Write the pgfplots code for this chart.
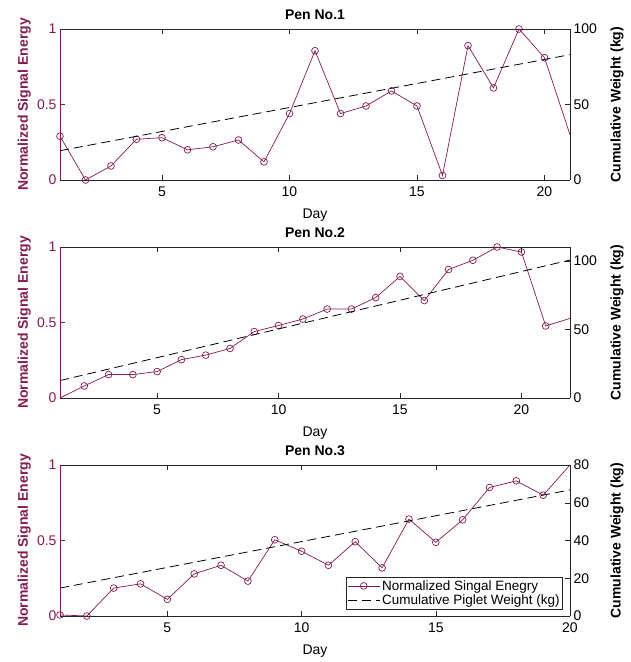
\documentclass[border=0pt]{standalone}
\usepackage{fontspec}
\setmainfont{Liberation Sans}
\usepackage{pgfplots}
\pgfplotsset{compat=1.18}
\definecolor{maroon}{RGB}{132,28,82}
\definecolor{axgray}{gray}{0.15}
\newcommand{\fs}{\fontsize{14}{16}\selectfont}
\pgfplotsset{
  panel/.style={scale only axis, width=510pt, height=151pt,
    tick align=inside, major tick length=5pt,
    /pgf/number format/assume math mode=true,
    tick label style={font=\fs}, label style={font=\fs},
    xtick={5,10,15,20}},
  leftax/.style={panel, separate axis lines,
    x axis line style={axgray, line width=0.6pt},
    y axis line style={maroon, line width=0.6pt},
    xtick pos=both, ytick pos=left,
    ymin=0, ymax=1, ytick={0,0.5,1},
    yticklabel style={text=maroon},
    y tick style={maroon}, x tick style={axgray},
    xticklabel style={yshift=-3pt},
    xlabel={Day},
    xlabel style={at={(axis description cs:0.5,0)}, anchor=center, yshift=-35pt},
    ylabel={\bfseries Normalized Signal Energy},
    ylabel style={text=maroon, at={(axis description cs:-0.07,0.5)}, anchor=center},
    title style={font=\fs\bfseries, at={(axis description cs:0.5,1)}, anchor=center, yshift=8pt}},
  rightax/.style={panel, axis y line*=right, axis x line=none,
    y axis line style={axgray, line width=0.6pt}, y tick style={axgray},
    ymin=0,
    ylabel={\bfseries Cumulative Weight (kg)},
    ylabel style={at={(axis description cs:1.092,0.5)}, anchor=center}},
  sig/.style={maroon, line width=0.7pt, mark=o, mark size=3.4pt, mark options={solid}},
  wt/.style={black, line width=0.8pt, dash pattern=on 9pt off 5pt},
}
\begin{document}
\begin{tikzpicture}
% ---------- Pen 1 ----------
\begin{axis}[leftax, at={(0,436pt)}, xmin=1, xmax=21, title={Pen No.1}]
\addplot[sig, mark indices={1,2,3,4,5,6,7,8,9,10,11,12,13,14,15,16,17,18,19,20}] coordinates {
(1,0.29)(2,0.0)(3,0.093)(4,0.27)(5,0.28)(6,0.20)(7,0.22)(8,0.265)(9,0.12)(10,0.44)
(11,0.856)(12,0.44)(13,0.49)(14,0.59)(15,0.49)(16,0.03)(17,0.89)(18,0.61)(19,1.0)(20,0.81)(21,0.30)};
\end{axis}
\begin{axis}[rightax, at={(0,436pt)}, xmin=1, xmax=21, ymax=100, ytick={0,50,100}]
\addplot[wt] coordinates {(1,19.4)(21,83)};
\end{axis}
% ---------- Pen 2 ----------
\begin{axis}[leftax, at={(0,218pt)}, xmin=1, xmax=22, title={Pen No.2}]
\addplot[sig, mark indices={2,3,4,5,6,7,8,9,10,11,12,13,14,15,16,17,18,19,20,21}] coordinates {
(1,0)(2,0.08)(3,0.155)(4,0.155)(5,0.175)(6,0.254)(7,0.284)(8,0.328)(9,0.44)(10,0.48)(11,0.523)
(12,0.589)(13,0.589)(14,0.665)(15,0.805)(16,0.645)(17,0.851)(18,0.912)(19,1.0)(20,0.967)(21,0.477)(22,0.527)};
\end{axis}
\begin{axis}[rightax, at={(0,218pt)}, xmin=1, xmax=22, ymax=110, ytick={0,50,100}]
\addplot[wt] coordinates {(1,12.7)(22,100.5)};
\end{axis}
% ---------- Pen 3 ----------
\begin{axis}[leftax, at={(0,0pt)}, xmin=1, xmax=20, title={Pen No.3}]
\addplot[sig, mark indices={1,2,3,4,5,6,7,8,9,10,11,12,13,14,15,16,17,18,19}] coordinates {
(1,0.007)(2,0)(3,0.185)(4,0.213)(5,0.11)(6,0.279)(7,0.336)(8,0.231)(9,0.505)(10,0.429)
(11,0.336)(12,0.492)(13,0.319)(14,0.642)(15,0.488)(16,0.637)(17,0.851)(18,0.895)(19,0.8)(20,1.0)};
\end{axis}
\begin{axis}[rightax, at={(0,0pt)}, xmin=1, xmax=20, ymax=80, ytick={0,20,40,60,80},
  legend style={at={(axis description cs:0.986,0.046)}, anchor=south east,
    draw=axgray, fill=white, font=\fontsize{13.5}{15}\selectfont,
    inner sep=1pt, row sep=-1pt, cells={anchor=west}},
  legend image code/.code={\draw[mark repeat=2,mark phase=2,#1] plot coordinates {(0pt,0pt) (16pt,0pt) (32pt,0pt)};}]
\addlegendimage{sig}
\addlegendentry{Normalized Singal Enegry}
\addplot[wt] coordinates {(1,14.8)(20,66.8)};
\addlegendentry{Cumulative Piglet Weight (kg)}
\end{axis}
\pgfresetboundingbox
\useasboundingbox (-60pt,-46pt) rectangle (570pt,616pt);
\end{tikzpicture}
\end{document}
